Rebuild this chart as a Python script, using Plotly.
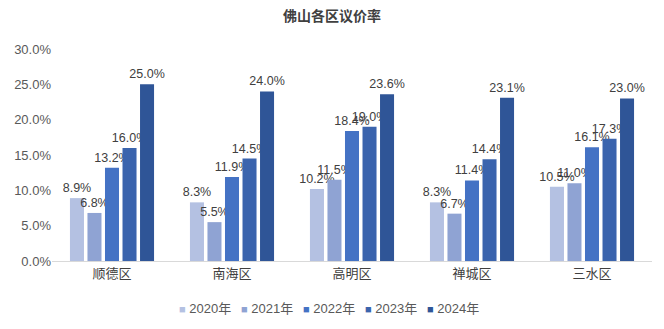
import plotly.graph_objects as go

# 各区议价率（%）
districts = ["顺德区", "南海区", "高明区", "禅城区", "三水区"]
years = ["2020年", "2021年", "2022年", "2023年", "2024年"]
rate_2020 = [8.9, 8.3, 10.2, 8.3, 10.5]
rate_2021 = [6.8, 5.5, 11.5, 6.7, 11.0]
rate_2022 = [13.2, 11.9, 18.4, 11.4, 16.1]
rate_2023 = [16.0, 14.5, 19.0, 14.4, 17.3]
rate_2024 = [25.0, 24.0, 23.6, 23.1, 23.0]
series = [rate_2020, rate_2021, rate_2022, rate_2023, rate_2024]
colors = ["#b4c1e2", "#8fa3d3", "#4472c4", "#3b64ad", "#2f5597"]

font_family = "Liberation Sans, Noto Sans CJK SC, sans-serif"

fig = go.Figure()
for name, vals, col in zip(years, series, colors):
    fig.add_trace(go.Bar(
        x=districts, y=vals, name=name,
        marker=dict(color=col, line=dict(width=0)),
        texttemplate="%{y:.1f}%", textposition="outside",
        textfont=dict(size=12.5, color="#404040", family=font_family),
        constraintext="none", cliponaxis=False,
    ))

# compact legend row below the axis: small coloured square + year label
left, right = 52, 652
legend_start, legend_step = 177, 62
for i, (name, col) in enumerate(zip(years, colors)):
    px = legend_start + i * legend_step
    fig.add_annotation(
        xref="paper", yref="paper",
        x=(px - left) / (right - left), y=-0.225,
        xanchor="left", yanchor="middle", showarrow=False,
        text=f"<span style='color:{col};font-size:11px'>■</span> {name}",
        font=dict(size=13, color="#595959", family=font_family),
    )

fig.update_layout(
    width=664, height=329,
    margin=dict(l=left, r=664 - right, t=49, b=68, autoexpand=False),
    paper_bgcolor="white", plot_bgcolor="white",
    barmode="group", bargap=0.27, bargroupgap=0.2,
    font=dict(family=font_family, color="#595959"),
    showlegend=False,
    title=dict(text="<b>佛山各区议价率</b>", x=0.5, xanchor="center",
               y=0.95, yanchor="middle",
               font=dict(size=14, color="#404040",
                         family="Noto Sans CJK SC, sans-serif")),
    xaxis=dict(showline=True, linecolor="#d9d9d9", linewidth=1,
               ticks="", tickfont=dict(size=13, color="#404040",
                                       family="Noto Sans CJK SC, sans-serif")),
    yaxis=dict(range=[0, 30], dtick=5, tickformat=".1f", ticksuffix="%",
               showgrid=False, zeroline=False, showline=False,
               tickfont=dict(size=13, color="#595959")),
)

fig.write_html("out.html")
